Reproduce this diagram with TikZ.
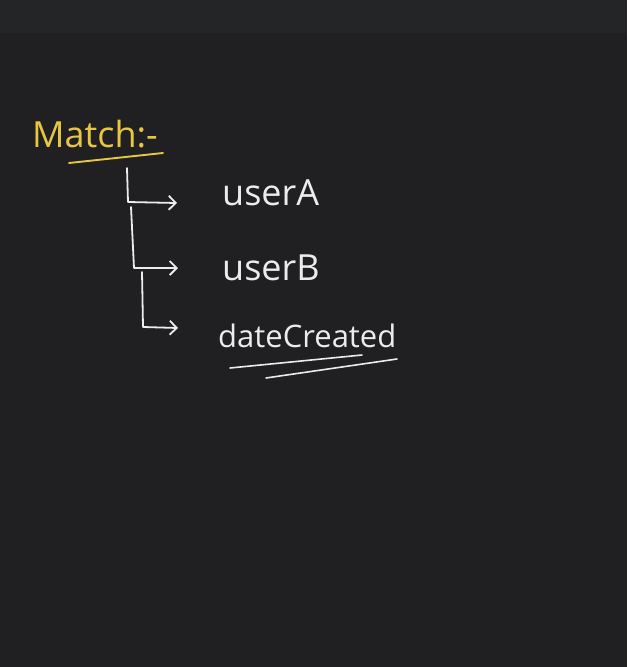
\documentclass[tikz,border=0pt]{standalone}
\usepackage{fontspec}
\setmainfont{Open Sans}
\usetikzlibrary{arrows.meta,positioning}
\definecolor{boardbg}{HTML}{202022}
\definecolor{boardtop}{HTML}{242527}
\definecolor{chalk}{HTML}{ECECEC}
\definecolor{marker}{HTML}{E8C640}

\begin{document}
\begin{tikzpicture}[x=1pt,y=-1pt,line cap=round,line join=round,
    >={Straight Barb[length=7pt,width=14pt]},
    field/.style={text=chalk,anchor=base west,inner sep=0pt,
      font=\fontsize{36}{40}\selectfont},
    branch/.style={chalk,line width=1.8pt}]
 % board
 \fill[boardbg] (0,0) rectangle (627,667);
 \fill[boardtop] (0,0) rectangle (627,33);
 \useasboundingbox (0,0) rectangle (627,667);
 % heading
 \node[text=marker,anchor=base west,inner sep=0pt,
    font=\fontsize{36}{40}\selectfont] (title) at (32,147) {Match:-};
 \draw[marker,line width=1.9pt] (69,163) -- (163,153);
 % fields
 \node[field] (userA) at (222,205) {userA};
 \node[field] (userB) at (222,280) {userB};
 \node[field,font=\fontsize{31}{34}\selectfont] (created) at (218,347)
   {dateCreated};
 \draw[chalk,line width=1.6pt] (230,368) -- (362,355);
 \draw[chalk,line width=1.6pt] (266,378) -- (397,359);
 % tree
 \coordinate (t1) at (127,168);
 \coordinate (k1) at (128,202);
 \coordinate (e1) at (177,203);
 \coordinate (t2) at (131,207);
 \coordinate (k2) at (134,268);
 \coordinate (e2) at (178,268);
 \coordinate (t3) at (142,272);
 \coordinate (k3) at (143,327);
 \coordinate (e3) at (178,328);
 \foreach \i in {1,2,3}{
    \draw[branch,->] (t\i) -- (k\i) -- (e\i);
 }
\end{tikzpicture}
\end{document}
